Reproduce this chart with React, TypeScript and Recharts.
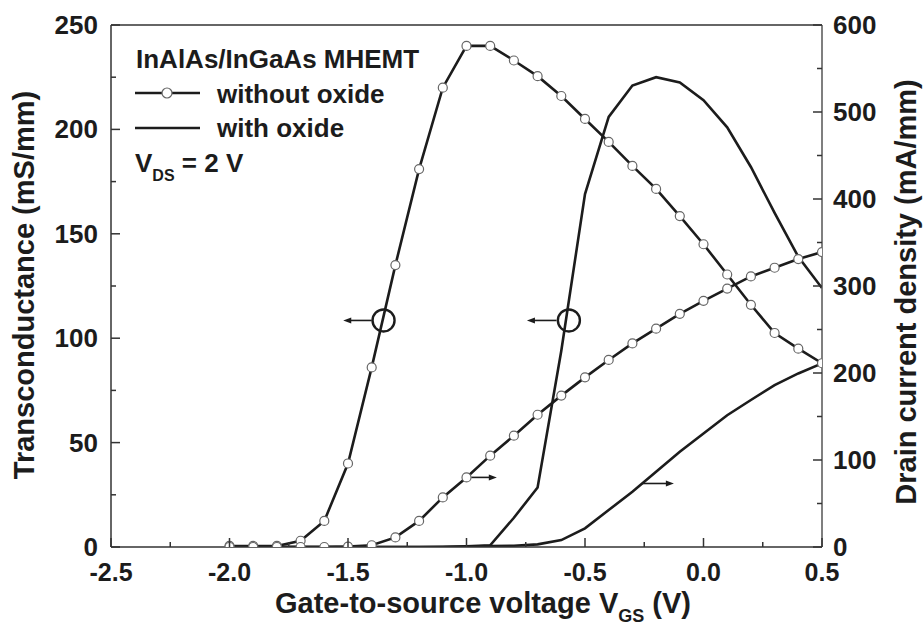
import { LineChart, Line, XAxis, YAxis, ReferenceLine, ReferenceDot, Customized } from 'recharts'

// gate-to-source voltage (V), one point every 0.1 V
const VGS = [-2.0, -1.9, -1.8, -1.7, -1.6, -1.5, -1.4, -1.3, -1.2, -1.1, -1.0, -0.9, -0.8, -0.7, -0.6, -0.5, -0.4, -0.3, -0.2, -0.1, 0.0, 0.1, 0.2, 0.3, 0.4, 0.5]

// transconductance (mS/mm), left axis
const GM_NO_OXIDE = [0.5, 0.5, 0.5, 3, 12.5, 40, 86, 135, 181, 220, 240, 240, 233, 225.5, 216, 205, 194, 182.5, 171.5, 158.5, 145, 130.5, 116, 102.5, 95, 88]
const GM_OXIDE = [0, 0, 0, 0, 0, 0, 0, 0, 0, 0, 0.3, 0.8, 14, 28.5, 94, 169, 206, 221, 225, 222.5, 214, 201, 182, 160, 139, 124]

// drain current density (mA/mm), right axis
const ID_NO_OXIDE = [0, 0, 0, 0, 0, 0.5, 2, 11, 30, 57, 80, 105, 128, 152, 174, 195, 215, 234, 251, 268, 283, 297, 311, 321, 331, 339]
const ID_OXIDE = [0, 0, 0, 0, 0, 0, 0, 0, 0, 0.3, 0.6, 1, 1.5, 3, 8, 21.5, 42.5, 63.5, 86.5, 109.5, 130.5, 151.5, 169, 186, 199.5, 211]

const X_TICKS = [-2.5, -2.25, -2.0, -1.75, -1.5, -1.25, -1.0, -0.75, -0.5, -0.25, 0.0, 0.25, 0.5]
const GM_TICKS = [0, 25, 50, 75, 100, 125, 150, 175, 200, 225, 250]
const ID_TICKS = [0, 50, 100, 150, 200, 250, 300, 350, 400, 450, 500, 550, 600]

// annotation markers: [vgs, value]
const GM_CIRCLES = [[-1.35, 108.5], [-0.568, 108.5]]
const GM_ARROWS = [[-1.4, -1.52, 108.5], [-0.62, -0.745, 108.5]]
const ID_ARROWS = [[-0.98, -0.872, 80], [-0.26, -0.125, 73]]

const data = VGS.map((v, i) => ({
  v,
  gmNo: GM_NO_OXIDE[i],
  gmOx: GM_OXIDE[i],
  idNo: ID_NO_OXIDE[i],
  idOx: ID_OXIDE[i],
}))

const FONT = '"Liberation Sans", Arial, Helvetica, sans-serif'
const INK = '#1c1c1c'
const AXIS = '#333'

const isMajor = (v: number, step: number) => Math.abs(v / step - Math.round(v / step)) < 1e-6

const BottomTick = ({ x, y, payload }: any) => {
  const major = isMajor(payload.value, 0.5)
  return (
    <g>
      <line x1={x} y1={y} x2={x} y2={y - (major ? 9 : 5)} stroke={AXIS} strokeWidth={1.5} />
      {major && (
        <text x={x} y={y + 34} textAnchor="middle" fontFamily={FONT} fontWeight="bold" fontSize={25} fill={INK}>
          {payload.value.toFixed(1)}
        </text>
      )}
    </g>
  )
}

const LeftTick = ({ x, y, payload }: any) => {
  const major = isMajor(payload.value, 50)
  return (
    <g>
      <line x1={x} y1={y} x2={x + (major ? 9 : 5)} y2={y} stroke={AXIS} strokeWidth={1.5} />
      {major && (
        <text x={x - 13} y={y + 9} textAnchor="end" fontFamily={FONT} fontWeight="bold" fontSize={26} fill={INK}>
          {payload.value}
        </text>
      )}
    </g>
  )
}

const RightTick = ({ x, y, payload }: any) => {
  const major = isMajor(payload.value, 100)
  return (
    <g>
      <line x1={x} y1={y} x2={x - (major ? 9 : 5)} y2={y} stroke={AXIS} strokeWidth={1.5} />
      {major && (
        <text x={x + 11} y={y + 9} textAnchor="start" fontFamily={FONT} fontWeight="bold" fontSize={26} fill={INK}>
          {payload.value}
        </text>
      )}
    </g>
  )
}

const Arrow = ({ x1, y1, x2, y2 }: any) => {
  const dir = x2 > x1 ? 1 : -1
  return (
    <g>
      <line x1={x1} y1={y1} x2={x2 - dir * 6} y2={y2} stroke={INK} strokeWidth={1.6} />
      <polygon points={`${x2},${y2} ${x2 - dir * 8},${y2 - 3} ${x2 - dir * 8},${y2 + 3}`} fill={INK} />
    </g>
  )
}

const Overlay = () => (
  <g fontFamily={FONT} fontWeight="bold" fill={INK}>
    {/* legend block */}
    <text x={136} y={68} fontSize={26}>InAlAs/InGaAs MHEMT</text>
    <line x1={135} y1={93} x2={200} y2={93} stroke={INK} strokeWidth={2.6} />
    <circle cx={167} cy={93} r={5} fill="#fff" stroke="#666" strokeWidth={1.2} />
    <text x={217} y={103} fontSize={26}>without oxide</text>
    <line x1={135} y1={128} x2={200} y2={128} stroke={INK} strokeWidth={2.6} />
    <text x={217} y={137} fontSize={26}>with oxide</text>
    <text x={135} y={172} fontSize={26}>
      V<tspan fontSize={16} dy={9}>DS</tspan>
      <tspan dy={-9}> = 2 V</tspan>
    </text>

    {/* axis titles */}
    <text x={275} y={613} fontSize={29}>
      Gate-to-source voltage V<tspan fontSize={18} dy={9}>GS</tspan>
      <tspan dy={-9}> (V)</tspan>
    </text>
    <text transform="translate(34,285) rotate(-90)" textAnchor="middle" fontSize={29}>
      Transconductance (mS/mm)
    </text>
    <text transform="translate(916,292) rotate(-90)" textAnchor="middle" fontSize={29}>
      Drain current density (mA/mm)
    </text>
  </g>
)

export default function App() {
  return (
    <div style={{ position: 'absolute', left: 0, top: 0, background: '#fff' }}>
      <LineChart width={924} height={633} data={data} margin={{ top: 25, right: 0, bottom: 0, left: 0 }}>
        <XAxis
          dataKey="v"
          type="number"
          domain={[-2.5, 0.5]}
          ticks={X_TICKS}
          interval={0}
          height={86}
          tickSize={0}
          tickMargin={0}
          tickLine={false}
          axisLine={{ stroke: AXIS, strokeWidth: 1.5 }}
          tick={<BottomTick />}
          allowDataOverflow
        />
        <YAxis
          yAxisId="gm"
          orientation="left"
          type="number"
          domain={[0, 250]}
          ticks={GM_TICKS}
          interval={0}
          width={111}
          tickSize={0}
          tickMargin={0}
          tickLine={false}
          axisLine={{ stroke: AXIS, strokeWidth: 1.5 }}
          tick={<LeftTick />}
          allowDataOverflow
        />
        <YAxis
          yAxisId="id"
          orientation="right"
          type="number"
          domain={[0, 600]}
          ticks={ID_TICKS}
          interval={0}
          width={102}
          tickSize={0}
          tickMargin={0}
          tickLine={false}
          axisLine={{ stroke: '#555', strokeWidth: 1.5 }}
          tick={<RightTick />}
          allowDataOverflow
        />
        <ReferenceLine yAxisId="gm" y={250} stroke={AXIS} strokeWidth={1.5} />

        <Line yAxisId="gm" dataKey="gmOx" type="linear" stroke={INK} strokeWidth={2.6} dot={false} isAnimationActive={false} />
        <Line yAxisId="id" dataKey="idOx" type="linear" stroke={INK} strokeWidth={2.6} dot={false} isAnimationActive={false} />
        <Line
          yAxisId="gm"
          dataKey="gmNo"
          type="linear"
          stroke={INK}
          strokeWidth={2.6}
          dot={{ r: 4.5, fill: '#fff', stroke: '#666', strokeWidth: 1.2 }}
          isAnimationActive={false}
        />
        <Line
          yAxisId="id"
          dataKey="idNo"
          type="linear"
          stroke={INK}
          strokeWidth={2.6}
          dot={{ r: 4.5, fill: '#fff', stroke: '#666', strokeWidth: 1.2 }}
          isAnimationActive={false}
        />

        {GM_CIRCLES.map(([x, y], i) => (
          <ReferenceDot key={`c${i}`} yAxisId="gm" x={x} y={y} r={11} fill="none" stroke={INK} strokeWidth={2.4} />
        ))}
        {GM_ARROWS.map(([from, to, y], i) => (
          <ReferenceLine key={`ga${i}`} yAxisId="gm" segment={[{ x: from, y }, { x: to, y }]} shape={<Arrow />} />
        ))}
        {ID_ARROWS.map(([from, to, y], i) => (
          <ReferenceLine key={`ia${i}`} yAxisId="id" segment={[{ x: from, y }, { x: to, y }]} shape={<Arrow />} />
        ))}

        <Customized component={Overlay} />
      </LineChart>
    </div>
  )
}
